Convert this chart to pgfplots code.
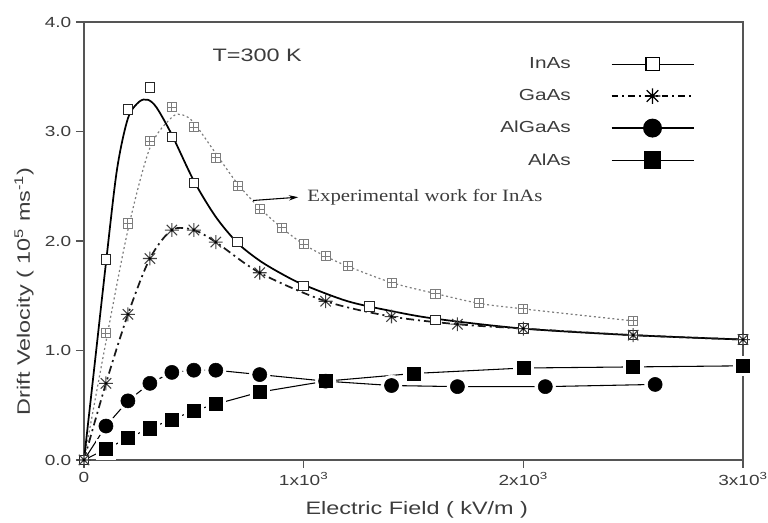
\documentclass[border=0pt]{standalone}
\usepackage{fontspec}
\setmainfont{Liberation Sans}[FakeStretch=1.3]
\newfontfamily\timesfont{Liberation Serif}[FakeStretch=1.2]
\usepackage{pgfplots}
\usepackage{pgfplotstable}
\pgfplotsset{compat=1.18}
\usetikzlibrary{arrows.meta}

\definecolor{axisgray}{RGB}{85,85,85}
\definecolor{labelgray}{RGB}{60,60,60}
\definecolor{expgray}{RGB}{125,125,125}

\pgfdeclareplotmark{sqgrid}{%
  \pgfpathrectangle{\pgfpoint{-\pgfplotmarksize}{-\pgfplotmarksize}}{\pgfpoint{2\pgfplotmarksize}{2\pgfplotmarksize}}%
  \pgfusepathqfillstroke
  \pgfpathmoveto{\pgfpoint{-\pgfplotmarksize}{0pt}}\pgfpathlineto{\pgfpoint{\pgfplotmarksize}{0pt}}%
  \pgfpathmoveto{\pgfpoint{0pt}{-\pgfplotmarksize}}\pgfpathlineto{\pgfpoint{0pt}{\pgfplotmarksize}}%
  \pgfusepathqstroke}
\pgfdeclareplotmark{star8}{%
  \pgfpathmoveto{\pgfpoint{-\pgfplotmarksize}{0pt}}\pgfpathlineto{\pgfpoint{\pgfplotmarksize}{0pt}}%
  \pgfpathmoveto{\pgfpoint{0pt}{-\pgfplotmarksize}}\pgfpathlineto{\pgfpoint{0pt}{\pgfplotmarksize}}%
  \pgfpathmoveto{\pgfpoint{-0.75\pgfplotmarksize}{-0.75\pgfplotmarksize}}\pgfpathlineto{\pgfpoint{0.75\pgfplotmarksize}{0.75\pgfplotmarksize}}%
  \pgfpathmoveto{\pgfpoint{-0.75\pgfplotmarksize}{0.75\pgfplotmarksize}}\pgfpathlineto{\pgfpoint{0.75\pgfplotmarksize}{-0.75\pgfplotmarksize}}%
  \pgfusepathqstroke
  \pgfpathcircle{\pgfpointorigin}{0.22\pgfplotmarksize}%
  \pgfusepathqfill}

% InAs fitted curve (theory)
\pgfplotstableread{
x y
0 0
50 0.9
100 1.8
150 2.65
200 3.12
250 3.27
290 3.29
330 3.22
400 2.97
500 2.55
600 2.22
700 1.98
800 1.82
900 1.70
1000 1.60
1200 1.45
1400 1.36
1600 1.29
2000 1.20
2500 1.14
3000 1.10
}\inascurve
\pgfplotstableread{
x y
0 0
100 1.83
200 3.20
300 3.40
400 2.95
500 2.53
700 1.99
1000 1.59
1300 1.40
1600 1.28
2000 1.20
2500 1.14
3000 1.10
}\inaspts
% experimental InAs
\pgfplotstableread{
x y
0 0
100 1.08
200 2.10
300 2.85
400 3.13
450 3.15
500 3.08
600 2.80
700 2.52
800 2.30
900 2.12
1000 1.97
1100 1.86
1200 1.77
1400 1.62
1600 1.52
1800 1.43
2000 1.38
2500 1.27
}\expcurve
\pgfplotstableread{
x y
0 0
100 1.16
200 2.16
300 2.91
400 3.22
500 3.04
600 2.76
700 2.50
800 2.29
900 2.12
1000 1.97
1100 1.86
1200 1.77
1400 1.62
1600 1.52
1800 1.43
2000 1.38
2500 1.27
}\exppts
\pgfplotstableread{
x y
0 0
100 0.70
200 1.33
300 1.84
400 2.10
500 2.10
600 1.99
800 1.71
1100 1.45
1400 1.31
1700 1.24
2000 1.20
2500 1.14
3000 1.10
}\gaas
\pgfplotstableread{
x y
0 0
100 0.31
200 0.54
300 0.70
400 0.80
500 0.82
600 0.82
800 0.78
1100 0.72
1400 0.68
1700 0.67
2100 0.67
2600 0.69
}\algaas
\pgfplotstableread{
x y
0 0
100 0.10
200 0.20
300 0.29
400 0.37
500 0.45
600 0.51
800 0.62
1100 0.72
1500 0.79
2000 0.84
2500 0.85
3000 0.86
}\alas

\begin{document}
\begin{tikzpicture}
\begin{axis}[
  scale only axis, width=494.25pt, height=328.5pt,
  xmin=0, xmax=3000, ymin=0, ymax=4,
  axis line style={draw=axisgray, line width=1.3pt},
  xtick={0,1000,2000,3000},
  xticklabels={0,1x10\textsuperscript{3},2x10\textsuperscript{3},3x10\textsuperscript{3}},
  ytick={0,1,2,3,4}, yticklabels={0.0,1.0,2.0,3.0,4.0},
  tick align=outside, xtick pos=bottom, ytick pos=left,
  major tick length=6pt,
  tick style={draw=axisgray, line width=1.2pt},
  ticklabel style={font=\fontsize{11}{13}\selectfont, text=labelgray},
  xlabel={Electric Field ( kV/m )},
  ylabel={Drift Velocity ( 10\textsuperscript{5} ms\textsuperscript{-1})},
  label style={font=\fontsize{13.5}{16}\selectfont, text=labelgray},
  xlabel style={at={(axis description cs:0.505,-0.114)}, anchor=center},
  ylabel style={at={(axis description cs:-0.091,0.385)}, anchor=center},
  clip=false,
  legend plot pos=right,
  legend cell align=right,
  legend style={draw=none, fill=none, at={(axis cs:2779,3.70)}, anchor=north east,
    inner sep=0pt, row sep=10pt, font=\fontsize{12}{14}\selectfont, text=labelgray},
  legend image code/.code={%
    \path (0pt,0pt) (89.5pt,0pt);
    \draw[mark repeat=2,mark phase=2,#1] plot coordinates {(28pt,0pt) (58.75pt,0pt) (89.5pt,0pt)};},
]
% legend entries
\addlegendimage{black, solid, line width=1pt, mark=square*, mark size=4.9pt, mark options={fill=white, solid, line width=0.8pt}}
\addlegendentry{InAs}
\addlegendimage{black, dash pattern=on 5pt off 3pt on 1.5pt off 3pt, line width=1pt, mark=star8, mark size=5.8pt, mark options={solid, line width=0.9pt}}
\addlegendentry{GaAs}
\addlegendimage{black, solid, line width=1pt, mark=*, mark size=6.6pt}
\addlegendentry{AlGaAs}
\addlegendimage{black, solid, line width=1pt, mark=square*, mark size=6.2pt}
\addlegendentry{AlAs}

% experimental InAs
\addplot[expgray, line width=0.9pt, dash pattern=on 1.5pt off 2pt, smooth, forget plot] table {\expcurve};
% AlGaAs and AlAs lines
\addplot[black, line width=0.8pt, forget plot] table {\algaas};
\addplot[black, line width=0.8pt, forget plot] table {\alas};
% white gaps around the filled marks
\addplot[white, only marks, mark=*, mark size=7.8pt, skip coords between index={0}{1}, forget plot] table {\algaas};
\addplot[white, only marks, mark=square*, mark size=7.3pt, skip coords between index={0}{1}, forget plot] table {\alas};
% filled marks
\addplot[black, only marks, mark=*, mark size=5.3pt, skip coords between index={0}{1}, forget plot] table {\algaas};
\addplot[black, only marks, mark=square*, mark size=4.9pt, skip coords between index={0}{1}, forget plot] table {\alas};
\addplot[expgray, only marks, mark=sqgrid, mark size=3.4pt, mark options={fill=white, solid, line width=0.7pt}, forget plot] table {\exppts};
% InAs
\addplot[black, line width=1.3pt, smooth, forget plot] table {\inascurve};
\addplot[black!85, only marks, mark=square*, mark size=3.6pt, mark options={fill=white, line width=0.7pt}, forget plot] table {\inaspts};
% GaAs
\addplot[black!90, line width=1.3pt, dash pattern=on 6pt off 3pt on 1.5pt off 3pt, smooth, mark=star8, mark size=5.2pt, mark options={solid, line width=0.8pt, draw=black!75, fill=black}, forget plot] table {\gaas};

\node[font=\fontsize{13.5}{16}\selectfont, text=labelgray] at (axis cs:788,3.70) {T=300 K};
\node[anchor=west, font=\timesfont\fontsize{13}{15}\selectfont, text=labelgray, inner sep=0pt] at (axis cs:1016,2.40) {Experimental work for InAs};
\draw[black, line width=0.8pt, -{Stealth[length=7pt,width=4pt]}] (axis cs:770,2.37) -- (axis cs:975,2.40);
\end{axis}
\pgfresetboundingbox
\path ([shift={(-63pt,-47.25pt)}]current axis.south west) rectangle ([shift={(18.75pt,16.5pt)}]current axis.north east);
\end{tikzpicture}
\end{document}
